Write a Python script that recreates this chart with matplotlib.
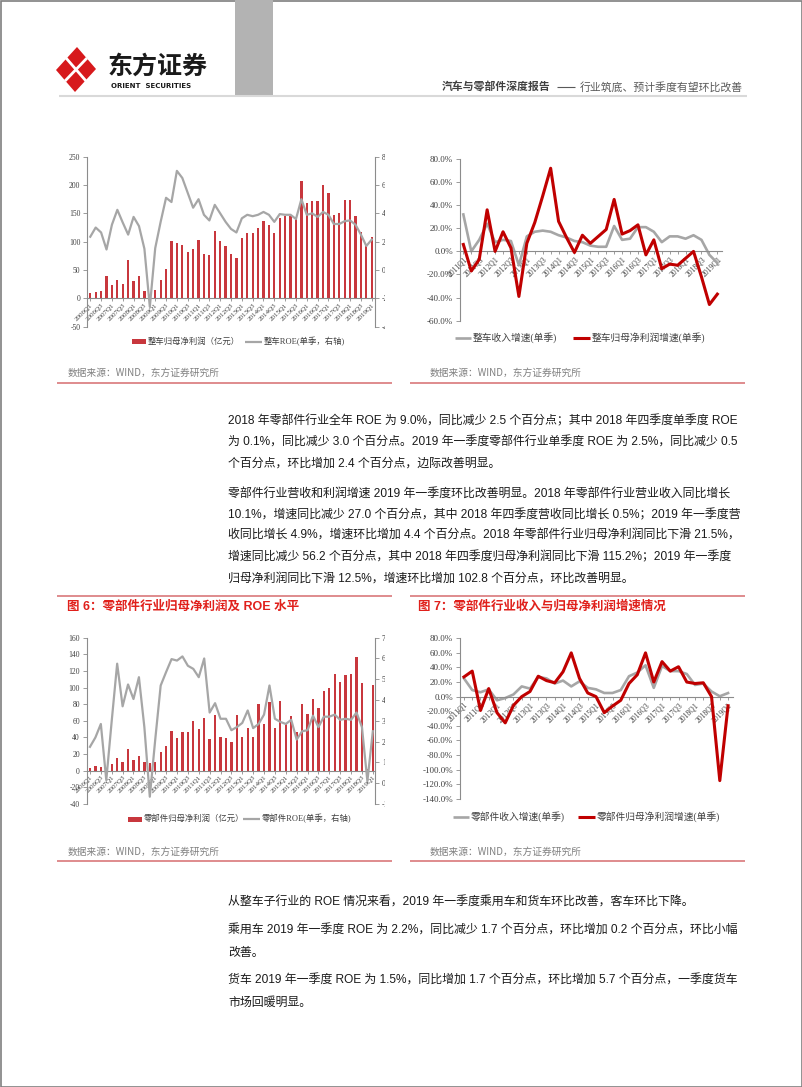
import numpy as np
import matplotlib
matplotlib.use('Agg')
import matplotlib.pyplot as plt
from matplotlib.patches import Polygon, Rectangle
from matplotlib.lines import Line2D
from matplotlib.transforms import Bbox, TransformedBbox

plt.rcParams['font.family'] = ['Noto Sans CJK SC', 'DejaVu Sans']
plt.rcParams['axes.unicode_minus'] = False

W, H = 802, 1087

# ---------------- data ----------------
q_long = [f'{y}Q{q}' for y in range(2006, 2020) for q in range(1, 5)][:53]   # 2006Q1..2019Q1
q_short = [f'{y}Q{q}' for y in range(2011, 2020) for q in range(1, 5)][:33]  # 2011Q1..2019Q1

# 整车归母净利润(亿元) / 整车ROE(单季, %)
car_profit = [10, 12, 13, 39, 23, 32, 25, 67, 31, 40, 13, -3, 15, 32, 51, 102, 97, 94, 81, 88,
              103, 79, 77, 119, 102, 92, 78, 72, 106, 115, 116, 124, 136, 130, 116, 142, 146, 146, 140, 208,
              169, 172, 171, 200, 186, 147, 151, 174, 174, 146, 118, 92, 108]
car_roe = [2.35, 3.0, 2.65, 1.45, 3.2, 4.25, 3.35, 2.5, 3.75, 3.1, 1.5, -2.6, 1.55, 3.4, 5.1, 4.8, 7.0, 6.5, 5.45, 4.4,
           5.0, 3.9, 3.5, 4.6, 4.0, 3.4, 2.9, 2.65, 3.65, 3.9, 3.8, 3.9, 4.1, 3.9, 3.4, 3.95, 3.9, 3.9, 3.6, 5.0,
           3.9, 4.0, 3.75, 4.1, 3.9, 3.25, 3.25, 3.45, 3.5, 3.2, 2.5, 1.7, 2.15]

# 整车收入增速 / 归母净利润增速 (单季, %)
car_rev_g = [32, 0, 10, 24, 8, 10, 9, -12, 13, 17, 18, 17, 14, 12, 9, 8, 5, 4, 4, 22,
             10, 11, 21, 21, 17, 8, 13, 13, 11, 14, 10, -3, -10]
car_profit_g = [6, -17, -7, 36, 0, 17, 3, -39, 7, 25, 48, 72, 26, 12, -1, 14, 7, 13, 19, 45,
                15, 18, 23, -3, 10, -15, -11, -12, -6, 0, -22, -46, -37]

# 零部件归母净利润(亿元) / 零部件ROE(单季, %)
parts_profit = [3, 6, 5, -3, 8, 15, 11, 26, 13, 18, 10, 9, 10, 23, 30, 48, 39, 46, 47, 60,
                50, 63, 38, 67, 40, 39, 34, 67, 41, 51, 41, 80, 56, 83, 52, 84, 56, 66, 47, 80,
                68, 86, 76, 96, 100, 116, 107, 115, 116, 137, 106, 2, 103]
parts_roe = [1.75, 2.2, 2.85, 0.15, 3.0, 5.75, 3.7, 4.75, 4.05, 5.1, 2.7, -0.65, 2.1, 4.7, 5.35, 5.97, 5.9, 6.1, 5.65, 5.5,
             5.1, 6.0, 3.4, 3.85, 3.1, 3.1, 2.55, 2.7, 2.9, 3.5, 2.65, 2.85, 3.3, 4.7, 3.1, 2.95, 2.85, 3.05, 2.1, 2.5,
             2.55, 3.25, 2.7, 3.2, 3.2, 3.3, 3.05, 3.1, 3.05, 3.4, 2.7, 0.1, 2.5]

# 零部件收入增速 / 归母净利润增速 (单季, %)
parts_rev_g = [25, 9, 6, 10, -5, -2, 3, 14, 11, 27, 25, 18, 22, 14, 21, 12, 10, 5, 5, 9,
               28, 33, 43, 12, 42, 35, 35, 31, 16, 18, 7, 0.5, 4.9]
parts_profit_g = [27, 35, -19, 11, -22, -36, -12, 0, 7, 28, 22, 19, 34, 60, 25, 5, 0, -22, -13, -5,
                  18, 30, 60, 20, 48, 35, 41, 20, 18, 19, 0, -115.2, -12.5]

BAR = '#C8373D'
GRAY = '#A6A6A6'
DRED = '#C00000'
AXC = '#8C8C8C'
TXT = '#404040'
RULE = '#D9787A'
SERIF = ['Liberation Serif', 'Noto Sans CJK SC']
SANS = ['Liberation Sans', 'Noto Sans CJK SC']

fig = plt.figure(figsize=(W / 100, H / 100), dpi=100)


def place(l, t, r, b):
    return fig.add_axes([l / W, 1 - b / H, (r - l) / W, (b - t) / H])


def ftext(x, y, s, **kw):
    kw.setdefault('va', 'center')
    return fig.text(x / W, 1 - y / H, s, **kw)


def fline(x0, x1, y0, y1, color, lw):
    fig.add_artist(Line2D([x0 / W, x1 / W], [1 - y0 / H, 1 - y1 / H], color=color, lw=lw,
                          transform=fig.transFigure, solid_capstyle='butt'))


def frect(x0, y0, x1, y1, color):
    fig.add_artist(Rectangle((x0 / W, 1 - y1 / H), (x1 - x0) / W, (y1 - y0) / H,
                             color=color, transform=fig.transFigure, lw=0))


clip_right = TransformedBbox(Bbox([[0, 0], [385 / W, 1]]), fig.transFigure)


def style_left(ax, ticks, fmt, fs):
    for s in ['top', 'right']:
        ax.spines[s].set_visible(False)
    for s in ['left', 'bottom']:
        ax.spines[s].set_color(AXC)
        ax.spines[s].set_linewidth(0.8)
    ax.spines['bottom'].set_position(('data', 0))
    ax.set_yticks(ticks)
    ax.set_yticklabels([fmt(t) for t in ticks], fontsize=fs, family=SERIF, color=TXT)
    ax.tick_params(axis='y', direction='out', length=3, width=0.6, color=AXC, pad=2)
    ax.set_facecolor('none')


def bar_roe_chart(rect, profit, roe, ylim, yticks, rlim, rticks, cap_bar, cap_line, legend_pos):
    x = np.arange(len(profit))
    ax = place(*rect[:4])
    ax.bar(x, profit, width=0.42, color=BAR, zorder=2)
    ax.set_xlim(rect[4], rect[5])
    ax.set_ylim(*ylim)
    style_left(ax, yticks, lambda t: f'{t:.0f}', 5.5)
    ax.set_xticks(x[::2])
    ax.set_xticklabels(q_long[::2], rotation=45, ha='right', rotation_mode='anchor',
                       fontsize=5, family=SERIF, color=TXT)
    ax.tick_params(axis='x', direction='out', length=2, width=0.6, color=AXC, pad=1)
    ax2 = ax.twinx()
    ax2.plot(x, roe, color=GRAY, lw=1.6, zorder=3)
    ax2.set_ylim(*rlim)
    for s in ['top', 'left', 'bottom']:
        ax2.spines[s].set_visible(False)
    ax2.spines['right'].set_color(AXC)
    ax2.spines['right'].set_linewidth(0.8)
    ax2.set_yticks(rticks)
    ax2.set_yticklabels([f'{t:.0f}%' for t in rticks], fontsize=5.5, family=SERIF, color=TXT)
    ax2.tick_params(axis='y', direction='out', length=3, width=0.6, color=AXC, pad=2)
    for lbl in ax2.get_yticklabels():
        lbl.set_clip_box(clip_right)
        lbl.set_clip_on(True)
    bx, gx, ly = legend_pos
    frect(bx, ly - 2.5, bx + 14, ly + 2.5, BAR)
    ftext(bx + 16, ly, cap_bar, fontsize=6, family=SERIF, color=TXT)
    fline(gx, gx + 17, ly, ly, GRAY, 1.6)
    ftext(gx + 19, ly, cap_line, fontsize=6, family=SERIF, color=TXT)


def growth_chart(rect, rev, prof, ylim, yticks, cap_rev, cap_prof, legend_pos):
    x = np.arange(len(rev))
    ax = place(*rect[:4])
    ax.plot(x, rev, color=GRAY, lw=1.9, zorder=2)
    ax.plot(x, prof, color=DRED, lw=2.2, zorder=3)
    ax.set_xlim(rect[4], rect[5])
    ax.set_ylim(*ylim)
    style_left(ax, yticks, lambda t: f'{t:.1f}%', 6.5)
    ax.set_xticks(x[::2])
    ax.set_xticks(x, minor=True)
    ax.set_xticklabels(q_short[::2], rotation=45, ha='right', rotation_mode='anchor',
                       fontsize=5.5, family=SERIF, color=TXT)
    ax.tick_params(axis='x', which='both', direction='out', length=2, width=0.6, color=AXC, pad=1)
    gx, rx, ly = legend_pos
    fline(gx, gx + 16, ly, ly, GRAY, 1.9)
    ftext(gx + 18, ly, cap_rev, fontsize=7, family=SERIF, color=TXT)
    fline(rx, rx + 17, ly, ly, DRED, 2.2)
    ftext(rx + 19, ly, cap_prof, fontsize=7, family=SERIF, color=TXT)


# ---------------- header ----------------
fig.add_artist(Rectangle((0.5 / W, 0.5 / H), (W - 1) / W, (H - 1) / H, fill=False,
                         edgecolor='#7F7F7F', lw=1.2, transform=fig.transFigure))
frect(235, 0, 273, 95, '#B3B3B3')
fig.add_artist(Polygon([(77 / W, 1 - 47 / H), (96 / W, 1 - 69 / H), (75 / W, 1 - 92 / H), (56 / W, 1 - 70 / H)],
                       closed=True, color='#D7191C', transform=fig.transFigure, lw=0))
fline(66, 86, 58, 81, 'white', 2.0)
fline(87, 65, 58, 81, 'white', 2.0)
ftext(108, 67, '东方证券', fontsize=18, weight='bold', color='#1A1A1A')
ftext(111, 86, 'ORIENT  SECURITIES', fontsize=5, weight='bold', color='#1A1A1A', family='DejaVu Sans')
ftext(442, 87, '汽车与零部件深度报告', fontsize=7.8, weight='bold', color='#404040')
fline(557, 575, 87, 87, '#595959', 0.8)
ftext(580, 87, '行业筑底、预计季度有望环比改善', fontsize=7.8, color='#595959')
fline(59, 747, 96, 96, '#D9D9D9', 1.5)

# ---------------- top charts ----------------
bar_roe_chart((87.3, 156.7, 375, 326.7, -0.55, 52.6), car_profit, car_roe,
              (-50, 250), np.arange(-50, 251, 50), (-4, 8), np.arange(-4, 9, 2),
              '整车归母净利润（亿元）', '整车ROE(单季，右轴)', (132, 245, 341.7))
growth_chart((460, 159, 721.7, 320.7, -0.42, 32.55), car_rev_g, car_profit_g,
             (-60, 80), np.arange(-60, 81, 20), '整车收入增速(单季)', '整车归母净利润增速(单季)',
             (455, 573, 338))
ftext(68, 373, '数据来源：WIND，东方证券研究所', fontsize=7, color='#808080')
ftext(430, 373, '数据来源：WIND，东方证券研究所', fontsize=7, color='#808080')
fline(57, 392, 383, 383, RULE, 1.2)
fline(410, 745, 383, 383, RULE, 1.2)

# ---------------- body text ----------------
para1 = ['2018 年零部件行业全年 ROE 为 9.0%，同比减少 2.5 个百分点；其中 2018 年四季度单季度 ROE',
         '为 0.1%，同比减少 3.0 个百分点。2019 年一季度零部件行业单季度 ROE 为 2.5%，同比减少 0.5',
         '个百分点，环比增加 2.4 个百分点，边际改善明显。']
para2 = ['零部件行业营收和利润增速 2019 年一季度环比改善明显。2018 年零部件行业营业收入同比增长',
         '10.1%，增速同比减少 27.0 个百分点，其中 2018 年四季度营收同比增长 0.5%；2019 年一季度营',
         '收同比增长 4.9%，增速环比增加 4.4 个百分点。2018 年零部件行业归母净利润同比下滑 21.5%，',
         '增速同比减少 56.2 个百分点，其中 2018 年四季度归母净利润同比下滑 115.2%；2019 年一季度',
         '归母净利润同比下滑 12.5%，增速环比增加 102.8 个百分点，环比改善明显。']
para3 = ['从整车子行业的 ROE 情况来看，2019 年一季度乘用车和货车环比改善，客车环比下降。',
         '乘用车 2019 年一季度 ROE 为 2.2%，同比减少 1.7 个百分点，环比增加 0.2 个百分点，环比小幅',
         '改善。',
         '货车 2019 年一季度 ROE 为 1.5%，同比增加 1.7 个百分点，环比增加 5.7 个百分点，一季度货车',
         '市场回暖明显。']
for s, y in zip(para1 + para2, [421, 443, 464, 494, 515, 536, 557, 579]):
    ftext(228, y, s, fontsize=8.6, family=SANS, color='#1A1A1A')
for s, y in zip(para3, [903, 931, 953, 981, 1003]):
    ftext(228, y, s, fontsize=8.6, family=SANS, color='#1A1A1A')

# ---------------- bottom charts ----------------
fline(57, 392, 596, 596, RULE, 1.2)
fline(410, 745, 596, 596, RULE, 1.2)
ftext(67, 607, '图 6：零部件行业归母净利润及 ROE 水平', fontsize=9, weight='bold', color='#E0201B', family=SANS)
ftext(418, 607, '图 7：零部件行业收入与归母净利润增速情况', fontsize=9, weight='bold', color='#E0201B', family=SANS)

bar_roe_chart((86.7, 637.7, 375, 804, -0.6, 52.4), parts_profit, parts_roe,
              (-40, 160), np.arange(-40, 161, 20), (-1, 7), np.arange(-1, 8, 1),
              '零部件归母净利润（亿元）', '零部件ROE(单季，右轴)', (128, 243, 819))
growth_chart((460, 638.3, 733, 798.7, -0.48, 32.6), parts_rev_g, parts_profit_g,
             (-140, 80), np.arange(-140, 81, 20), '零部件收入增速(单季)', '零部件归母净利润增速(单季)',
             (453, 578, 816.7))
ftext(68, 852, '数据来源：WIND，东方证券研究所', fontsize=7, color='#808080')
ftext(430, 852, '数据来源：WIND，东方证券研究所', fontsize=7, color='#808080')
fline(57, 392, 861, 861, RULE, 1.2)
fline(410, 745, 861, 861, RULE, 1.2)

fig.savefig('out.png', dpi=100)
